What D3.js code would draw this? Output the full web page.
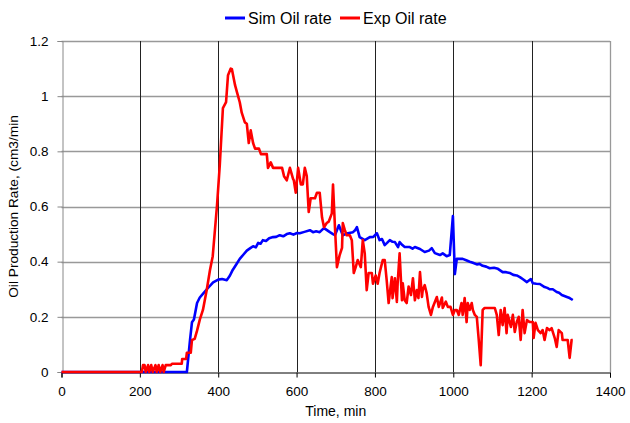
<!DOCTYPE html>
<html>
<head>
<meta charset="utf-8">
<script src="https://cdn.jsdelivr.net/npm/d3@7"></script>
<style>
  html, body { margin: 0; padding: 0; background: #fff; }
  svg { display: block; font-family: "Liberation Sans", Arial, sans-serif; }
</style>
</head>
<body>
<svg id="chart" width="630" height="423"></svg>
<script>
// Simulated oil production rate: [time (min), rate (cm3/min)]
const simOil = [
  [0, 0], [320, 0], [328, 0.116], [333, 0.18], [338, 0.19], [346, 0.25], [353, 0.27],
  [362, 0.285], [371, 0.30], [387, 0.325], [400, 0.335], [410, 0.337], [422, 0.333],
  [430, 0.35], [437, 0.37], [446, 0.39], [455, 0.41], [464, 0.425], [473, 0.44],
  [481, 0.448], [489, 0.456], [496, 0.452], [502, 0.468], [508, 0.465], [514, 0.478],
  [522, 0.475], [530, 0.485], [540, 0.489], [548, 0.49], [557, 0.496], [566, 0.492],
  [575, 0.5], [583, 0.503], [592, 0.498], [601, 0.504], [608, 0.503], [620, 0.508],
  [634, 0.514], [642, 0.507], [650, 0.51], [659, 0.507], [667, 0.518], [672, 0.52],
  [685, 0.507], [693, 0.5], [698, 0.496], [708, 0.532], [718, 0.496], [725, 0.5],
  [731, 0.503], [744, 0.507], [750, 0.515], [754, 0.525], [761, 0.489], [774, 0.478],
  [787, 0.489], [796, 0.49], [805, 0.503], [812, 0.478], [818, 0.482], [825, 0.46],
  [831, 0.468], [838, 0.478], [845, 0.472], [851, 0.471], [859, 0.453], [863, 0.471],
  [870, 0.46], [876, 0.453], [889, 0.453], [896, 0.447], [902, 0.453], [915, 0.446],
  [927, 0.435], [938, 0.44], [945, 0.449], [953, 0.431], [966, 0.424], [973, 0.43],
  [983, 0.42], [991, 0.424], [999, 0.565], [1004, 0.355], [1009, 0.41], [1024, 0.41],
  [1033, 0.405], [1042, 0.4], [1050, 0.396], [1060, 0.39], [1067, 0.392], [1075, 0.385],
  [1084, 0.382], [1093, 0.376], [1104, 0.378], [1114, 0.374], [1126, 0.362],
  [1135, 0.362], [1144, 0.359], [1153, 0.352], [1162, 0.35], [1170, 0.344],
  [1177, 0.337], [1188, 0.326], [1198, 0.337], [1203, 0.322], [1212, 0.32],
  [1221, 0.319], [1233, 0.308], [1240, 0.305], [1246, 0.3], [1254, 0.3], [1264, 0.29],
  [1270, 0.287], [1277, 0.279], [1290, 0.272], [1297, 0.268], [1305, 0.261]
];

// Measured oil production rate: [time (min), rate (cm3/min)]
const expOil = [
  [0, 0], [205, 0], [208, 0.025], [212, 0.025], [215, 0], [221, 0.025], [224, 0],
  [229, 0.025], [233, 0], [240, 0.025], [243, 0], [248, 0.025], [252, 0], [258, 0.025],
  [261, 0], [266, 0.025], [279, 0.025], [282, 0.03], [307, 0.03], [308, 0.047],
  [318, 0.047], [320, 0.07], [330, 0.07], [333, 0.116], [340, 0.12], [346, 0.15],
  [353, 0.19], [361, 0.225], [371, 0.3], [379, 0.37], [386, 0.42], [397, 0.605],
  [404, 0.75], [412, 0.957], [420, 0.978], [425, 1.076], [432, 1.10], [435, 1.098],
  [443, 1.04], [448, 1.014], [455, 0.978], [460, 0.94], [468, 0.905], [473, 0.9],
  [478, 0.83], [483, 0.876], [489, 0.83], [494, 0.81], [504, 0.81], [509, 0.79],
  [524, 0.79], [527, 0.74], [534, 0.76], [540, 0.74], [563, 0.74], [568, 0.71],
  [575, 0.695], [583, 0.74], [591, 0.70], [593, 0.695], [598, 0.65], [604, 0.74],
  [611, 0.68], [616, 0.68], [621, 0.74], [626, 0.71], [631, 0.58], [636, 0.63],
  [647, 0.63], [652, 0.65], [659, 0.65], [665, 0.56], [670, 0.525], [677, 0.54],
  [682, 0.545], [690, 0.575], [693, 0.68], [698, 0.525], [703, 0.38], [710, 0.424],
  [716, 0.45], [718, 0.54], [723, 0.515], [728, 0.496], [736, 0.496], [741, 0.478],
  [746, 0.359], [751, 0.38], [756, 0.406], [764, 0.38], [769, 0.478], [774, 0.43],
  [779, 0.297], [784, 0.359], [792, 0.359], [795, 0.32], [802, 0.35], [807, 0.32],
  [812, 0.36], [820, 0.406], [825, 0.406], [830, 0.333], [835, 0.25], [840, 0.31],
  [843, 0.344], [845, 0.268], [851, 0.34], [856, 0.254], [858, 0.322], [863, 0.43],
  [869, 0.26], [871, 0.322], [876, 0.26], [881, 0.25], [886, 0.31], [892, 0.279],
  [897, 0.34], [902, 0.26], [907, 0.297], [911, 0.268], [915, 0.362], [920, 0.272],
  [922, 0.297], [927, 0.315], [932, 0.286], [937, 0.236], [943, 0.207], [948, 0.236],
  [958, 0.272], [963, 0.236], [971, 0.27], [973, 0.232], [981, 0.255], [986, 0.236],
  [993, 0.236], [999, 0.207], [1004, 0.225], [1009, 0.225], [1014, 0.207],
  [1021, 0.25], [1024, 0.207], [1029, 0.268], [1034, 0.181], [1037, 0.25],
  [1042, 0.225], [1047, 0.25], [1050, 0.225], [1055, 0.207], [1060, 0.2],
  [1065, 0.116], [1070, 0.025], [1075, 0.225], [1080, 0.232], [1093, 0.232],
  [1106, 0.232], [1111, 0.207], [1116, 0.134], [1121, 0.225], [1126, 0.17],
  [1131, 0.232], [1136, 0.141], [1139, 0.207], [1147, 0.163], [1152, 0.207],
  [1157, 0.145], [1162, 0.181], [1167, 0.2], [1172, 0.116], [1177, 0.225],
  [1182, 0.141], [1188, 0.188], [1195, 0.181], [1203, 0.181], [1205, 0.123],
  [1210, 0.178], [1216, 0.152], [1223, 0.141], [1228, 0.152], [1233, 0.116],
  [1239, 0.159], [1246, 0.152], [1251, 0.159], [1259, 0.123], [1264, 0.091],
  [1269, 0.152], [1277, 0.141], [1279, 0.116], [1287, 0.116], [1292, 0.116],
  [1297, 0.051], [1302, 0.116], [1305, 0.116]
];

const xTicks = [0, 200, 400, 600, 800, 1000, 1200, 1400];
const yTicks = [0, 0.2, 0.4, 0.6, 0.8, 1, 1.2];
const seriesNames = ["Sim Oil rate", "Exp Oil rate"];
const seriesColors = ["#0000ff", "#ff0000"];
const xTitle = "Time, min";
const yTitle = "Oil Production Rate, (cm3/min";

const svg = d3.select("#chart");
const plot = { left: 61.5, right: 610, top: 41, bottom: 372 };

const x = d3.scaleLinear().domain([0, 1400]).range([plot.left, plot.right]);
const y = d3.scaleLinear().domain([0, 1.2]).range([plot.bottom, plot.top]);

// Horizontal gridlines (gray)
svg.append("g")
  .selectAll("line")
  .data(yTicks.filter(d => d > 0))
  .join("line")
  .attr("x1", plot.left).attr("x2", plot.right)
  .attr("y1", d => Math.round(y(d)) + 0.5).attr("y2", d => Math.round(y(d)) + 0.5)
  .attr("stroke", "#999").attr("stroke-width", 1.3);

// Vertical gridlines (black)
svg.append("g")
  .selectAll("line")
  .data(xTicks.filter(d => d > 0 && d < 1400))
  .join("line")
  .attr("x1", d => Math.round(x(d)) + 0.5).attr("x2", d => Math.round(x(d)) + 0.5)
  .attr("y1", plot.top).attr("y2", plot.bottom)
  .attr("stroke", "#222").attr("stroke-width", 1);

// Right border of the plot area
svg.append("line")
  .attr("x1", Math.round(x(1400)) + 0.5).attr("x2", Math.round(x(1400)) + 0.5)
  .attr("y1", plot.top).attr("y2", plot.bottom)
  .attr("stroke", "#999").attr("stroke-width", 1.3);

// Y axis
const yAxis = d3.axisLeft(y).tickValues(yTicks).tickSize(5).tickPadding(9)
  .tickFormat(d3.format("~g"));
const gy = svg.append("g")
  .attr("transform", `translate(${Math.round(plot.left) + 0.5},0)`)
  .call(yAxis);
gy.select(".domain").attr("stroke", "#888");
gy.selectAll(".tick line").attr("stroke", "#888");
gy.selectAll(".tick text").attr("font-size", 13.5).attr("fill", "#000")
  .attr("font-family", "Liberation Sans, Arial, sans-serif");

// X axis
const xAxis = d3.axisBottom(x).tickValues(xTicks).tickSize(5).tickPadding(9)
  .tickFormat(d3.format("d"));
const gx = svg.append("g")
  .attr("transform", `translate(0,${plot.bottom + 0.5})`)
  .call(xAxis);
gx.select(".domain").attr("stroke", "#000");
gx.selectAll(".tick line").attr("stroke", "#000");
gx.selectAll(".tick text").attr("font-size", 13.5).attr("fill", "#000")
  .attr("font-family", "Liberation Sans, Arial, sans-serif");

// Data lines
const line = d3.line().x(d => x(d[0])).y(d => y(d[1]));
[simOil, expOil].forEach((data, i) => {
  svg.append("path")
    .datum(data)
    .attr("fill", "none")
    .attr("stroke", seriesColors[i])
    .attr("stroke-width", 2.6)
    .attr("stroke-linejoin", "round")
    .attr("d", line);
});

// Axis titles
svg.append("text")
  .attr("x", (plot.left + plot.right) / 2).attr("y", 416)
  .attr("text-anchor", "middle").attr("font-size", 14)
  .text(xTitle);
svg.append("text")
  .attr("transform", `translate(18,${(plot.top + plot.bottom) / 2}) rotate(-90)`)
  .attr("text-anchor", "middle").attr("font-size", 13.7)
  .text(yTitle);

// Legend
const legend = svg.append("g").attr("transform", "translate(0,18)");
const legendX = [225, 340];
seriesNames.forEach((name, i) => {
  legend.append("line")
    .attr("x1", legendX[i]).attr("x2", legendX[i] + 20)
    .attr("y1", 0).attr("y2", 0)
    .attr("stroke", seriesColors[i]).attr("stroke-width", 3);
  legend.append("text")
    .attr("x", legendX[i] + 23).attr("y", 0).attr("dy", "0.35em")
    .attr("font-size", 16)
    .text(name);
});
</script>
</body>
</html>
